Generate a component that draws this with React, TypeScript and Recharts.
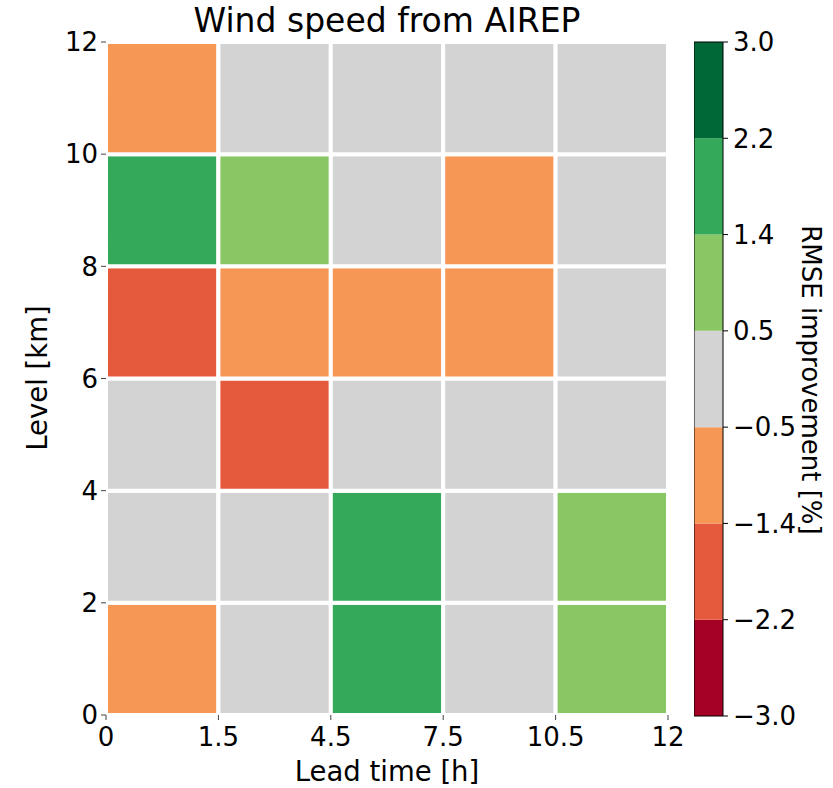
import { ScatterChart, Scatter, XAxis, YAxis, ReferenceArea } from 'recharts'

// lead time bin edges [h] (shown at column boundaries)
const leadTimeEdges = ['0', '1.5', '4.5', '7.5', '10.5', '12']
// level ticks [km]
const levelTicks = [0, 2, 4, 6, 8, 10, 12]

// RMSE improvement [%] per lead time column, one array per 2 km layer
const level0to2 = [-1.0, 0.1, 1.8, -0.2, 1.0]
const level2to4 = [0.2, -0.1, 1.9, 0.0, 1.1]
const level4to6 = [0.0, -1.8, 0.3, -0.1, 0.2]
const level6to8 = [-1.9, -0.9, -1.0, -0.8, 0.1]
const level8to10 = [1.8, 1.0, 0.2, -0.9, -0.3]
const level10to12 = [-0.8, 0.0, 0.4, -0.2, 0.1]

const levelRows = [level0to2, level2to4, level4to6, level6to8, level8to10, level10to12]

// colour bins
const binBounds = [-3.0, -2.2, -1.4, -0.5, 0.5, 1.4, 2.2, 3.0]
const binLabels = ['\u22123.0', '\u22122.2', '\u22121.4', '\u22120.5', '0.5', '1.4', '2.2', '3.0']
const binColors = ['#a50026', '#e55a3c', '#f79755', '#d3d3d3', '#89c765', '#34a95a', '#006837']

const FONT = 'DejaVu Sans, sans-serif'

const colorFor = (v: number) => {
    for (let i = 0; i < binColors.length; i++) {
        if (v < binBounds[i + 1]) return binColors[i]
    }
    return binColors[binColors.length - 1]
}

const cells = levelRows.flatMap((row, r) =>
    row.map((v, c) => ({ x: c + 0.5, y: r * 2 + 1, c, r, v }))
)

const tickStyle = { fill: '#000', fontSize: 26, fontFamily: FONT }

export default function App() {
    return (
        <div style={{ position: 'relative', width: 833, height: 788, background: '#fff' }}>
            <style>{`body{margin:0}`}</style>

            {/* heatmap */}
            <div style={{ position: 'absolute', left: 0, top: 0 }}>
                <ScatterChart width={833} height={788} margin={{ top: 42, right: 165, bottom: 43, left: 46 }}>
                    <XAxis
                        type="number"
                        dataKey="x"
                        domain={[0, 5]}
                        ticks={[0, 1, 2, 3, 4, 5]}
                        tickFormatter={(i: number) => leadTimeEdges[i]}
                        axisLine={false}
                        tickLine={{ stroke: '#444' }}
                        tickSize={5}
                        tickMargin={8}
                        tick={tickStyle}
                        height={30}
                        interval={0}
                    />
                    <YAxis
                        type="number"
                        dataKey="y"
                        domain={[0, 12]}
                        ticks={levelTicks}
                        axisLine={false}
                        tickLine={{ stroke: '#444' }}
                        tickSize={5}
                        tickMargin={3}
                        tick={tickStyle}
                        width={60}
                        interval={0}
                    />
                    {cells.map((d, i) => (
                        <ReferenceArea
                            key={i}
                            x1={d.c}
                            x2={d.c + 1}
                            y1={d.r * 2}
                            y2={d.r * 2 + 2}
                            fill={colorFor(d.v)}
                            fillOpacity={1}
                            stroke="#fff"
                            strokeWidth={4}
                        />
                    ))}
                    <Scatter data={cells} isAnimationActive={false} shape={() => <g />} />
                </ScatterChart>
            </div>

            {/* colour bar */}
            <div style={{ position: 'absolute', left: 694, top: 0 }}>
                <ScatterChart width={139} height={788} margin={{ top: 42, right: 50, bottom: 72, left: 0 }}>
                    <XAxis type="number" dataKey="x" domain={[0, 1]} hide height={0} />
                    <YAxis
                        type="number"
                        dataKey="y"
                        orientation="right"
                        domain={[0, 7]}
                        ticks={[0, 1, 2, 3, 4, 5, 6, 7]}
                        tickFormatter={(i: number) => binLabels[i]}
                        axisLine={false}
                        tickLine={{ stroke: '#000' }}
                        tickSize={5}
                        tickMargin={5}
                        tick={{ ...tickStyle, textAnchor: 'start' }}
                        width={60}
                        interval={0}
                    />
                    {binColors.map((col, i) => (
                        <ReferenceArea key={i} x1={0} x2={1} y1={i} y2={i + 1} fill={col} fillOpacity={1} stroke="none" />
                    ))}
                    <ReferenceArea x1={0} x2={1} y1={0} y2={7} fill="none" stroke="#000" strokeWidth={1} />
                    <Scatter data={[{ x: 0.5, y: 3.5 }]} isAnimationActive={false} shape={() => <g />} />
                </ScatterChart>
            </div>

            {/* titles and axis labels */}
            <svg width={833} height={788} style={{ position: 'absolute', left: 0, top: 0, pointerEvents: 'none' }}>
                <text x={387} y={32} textAnchor="middle" fontFamily={FONT} fontSize={33} fill="#000">
                    Wind speed from AIREP
                </text>
                <text x={387} y={781} textAnchor="middle" fontFamily={FONT} fontSize={27.5} fill="#000">
                    Lead time [h]
                </text>
                <text
                    x={47}
                    y={378}
                    textAnchor="middle"
                    fontFamily={FONT}
                    fontSize={27.5}
                    fill="#000"
                    transform="rotate(-90, 47, 378)"
                >
                    Level [km]
                </text>
                <text
                    x={802}
                    y={380}
                    textAnchor="middle"
                    fontFamily={FONT}
                    fontSize={26}
                    fill="#000"
                    transform="rotate(90, 802, 380)"
                >
                    RMSE improvement [%]
                </text>
            </svg>
        </div>
    )
}
